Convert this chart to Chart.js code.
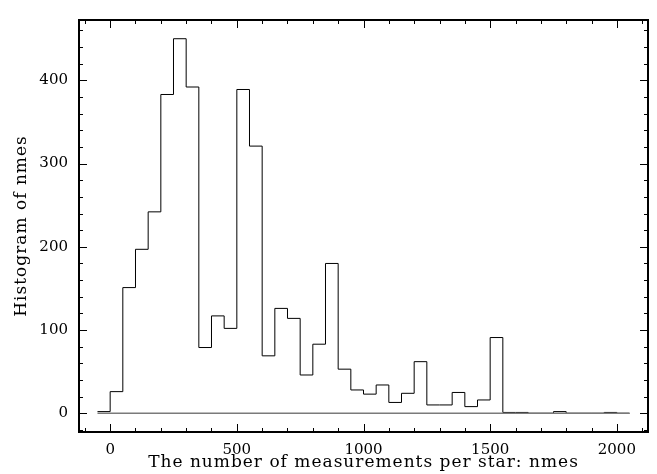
<!DOCTYPE html>
<html>
<head>
<meta charset="utf-8">
<script src="https://cdn.jsdelivr.net/npm/chart.js@4/dist/chart.umd.min.js"></script>
<style>
  html, body { margin: 0; padding: 0; background: #fff; }
  #wrap { width: 657px; height: 474px; }
</style>
</head>
<body>
<div id="wrap"><canvas id="hist"></canvas></div>
<script>
// left edges of the 50-wide bins, and the bin counts
const binEdges = [-50, 0, 50, 100, 150, 200, 250, 300, 350, 400, 450, 500, 550, 600, 650, 700,
    750, 800, 850, 900, 950, 1000, 1050, 1100, 1150, 1200, 1250, 1300, 1350, 1400, 1450, 1500,
    1550, 1600, 1650, 1700, 1750, 1800, 1850, 1900, 1950, 2000];
const binCounts = [2, 26, 151, 197, 242, 383, 450, 392, 79, 117, 102, 389, 321, 69, 126, 114,
    46, 83, 180, 53, 28, 23, 34, 13, 24, 62, 10, 10, 25, 8, 16, 91,
    1, 1, 0, 0, 2, 0, 0, 0, 1, 0];
const lastEdge = 2050;

const xMajorTicks = [0, 500, 1000, 1500, 2000];
const yMajorTicks = [0, 100, 200, 300, 400];

const xTitle = 'The number of measurements per star: nmes';
const yTitle = 'Histogram of nmes';

const fontFamily = '"DejaVu Serif", serif';

const histPoints = binEdges.map(function (e, i) {
    return { x: e, y: binCounts[i] };
});
histPoints.push({ x: lastEdge, y: binCounts[binCounts.length - 1] });

// frame with inward ticks on all four sides, plus the spaced-out axis titles
const framePlugin = {
    id: 'frame',
    afterDraw: function (chart) {
        const ctx = chart.ctx;
        const a = chart.chartArea;
        const xs = chart.scales.x;
        const ys = chart.scales.y;
        ctx.save();
        ctx.strokeStyle = '#000';
        ctx.lineWidth = 1;
        for (let v = -100; v <= 2100; v += 100) {
            const px = Math.round(xs.getPixelForValue(v)) + 0.5;
            const len = xMajorTicks.indexOf(v) >= 0 ? 8 : 4;
            ctx.beginPath();
            ctx.moveTo(px, a.bottom); ctx.lineTo(px, a.bottom - len);
            ctx.moveTo(px, a.top); ctx.lineTo(px, a.top + len);
            ctx.stroke();
        }
        for (let v = -20; v <= 460; v += 20) {
            const py = Math.round(ys.getPixelForValue(v)) + 0.5;
            const len = yMajorTicks.indexOf(v) >= 0 ? 8 : 4;
            ctx.beginPath();
            ctx.moveTo(a.left, py); ctx.lineTo(a.left + len, py);
            ctx.moveTo(a.right, py); ctx.lineTo(a.right - len, py);
            ctx.stroke();
        }
        ctx.lineWidth = 2;
        ctx.strokeRect(a.left, a.top, a.right - a.left, a.bottom - a.top);

        ctx.fillStyle = '#000';
        ctx.font = '17px ' + fontFamily;
        ctx.letterSpacing = '1px';
        ctx.textAlign = 'center';
        ctx.textBaseline = 'middle';
        ctx.fillText(xTitle, (a.left + a.right) / 2, 463);
        ctx.translate(21.5, (a.top + a.bottom) / 2);
        ctx.rotate(-Math.PI / 2);
        ctx.fillText(yTitle, 0, 0);
        ctx.restore();
    }
};

new Chart(document.getElementById('hist'), {
    type: 'line',
    data: {
        datasets: [
            {
                label: 'baseline',
                data: [{ x: binEdges[0], y: 0 }, { x: lastEdge, y: 0 }],
                borderColor: '#7a7a7a',
                borderWidth: 1.5,
                pointRadius: 0,
                fill: false
            },
            {
                label: 'nmes',
                data: histPoints,
                stepped: 'before',
                borderColor: '#000',
                borderWidth: 1,
                pointRadius: 0,
                fill: false
            }
        ]
    },
    options: {
        responsive: true,
        maintainAspectRatio: false,
        animation: false,
        layout: { padding: { top: 6, right: 9, left: 0, bottom: 0 } },
        scales: {
            x: {
                type: 'linear',
                min: -123,
                max: 2123,
                grid: { display: false, drawTicks: false },
                border: { display: false },
                afterFit: function (s) { s.height = 42; },
                ticks: {
                    stepSize: 100,
                    autoSkip: false,
                    maxRotation: 0,
                    padding: 9,
                    color: '#000',
                    font: { family: fontFamily, size: 15 },
                    callback: function (v) { return xMajorTicks.indexOf(v) >= 0 ? String(v) : ''; }
                }
            },
            y: {
                min: -22.5,
                max: 472.5,
                grid: { display: false, drawTicks: false },
                border: { display: false },
                afterFit: function (s) { s.width = 79; },
                ticks: {
                    stepSize: 20,
                    autoSkip: false,
                    padding: 11,
                    color: '#000',
                    font: { family: fontFamily, size: 15 },
                    callback: function (v) { return yMajorTicks.indexOf(v) >= 0 ? String(v) : ''; }
                }
            }
        },
        plugins: {
            legend: { display: false },
            tooltip: { enabled: false }
        }
    },
    plugins: [framePlugin]
});
</script>
</body>
</html>
